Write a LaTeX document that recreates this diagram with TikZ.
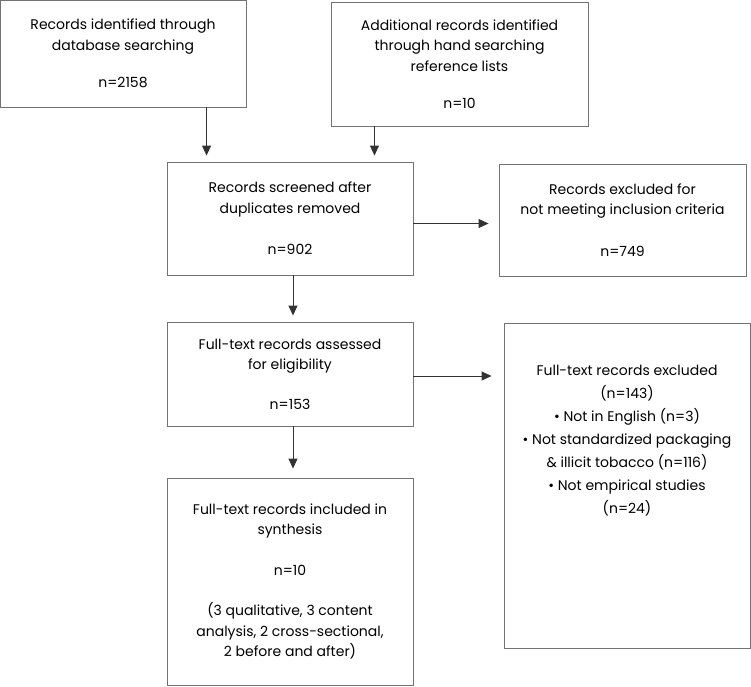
\documentclass[tikz,border=0pt]{standalone}
\usepackage{fontspec}
\setmainfont{Poppins}
\usepackage{tikz}
\usetikzlibrary{arrows.meta}

\tikzset{
    box/.style={rectangle,draw=black!55,line width=0.9pt,align=center,
        font=\fontsize{14}{20.5}\selectfont,inner sep=0pt},
    arr/.style={draw=black!80,line width=0.9pt,-{Triangle[length=10pt,width=9pt]}}
}

\begin{document}
\begin{tikzpicture}[x=1pt,y=-1pt]
    \useasboundingbox (0,0) rectangle (751,686);
    \node[box,minimum width=246pt,minimum height=107pt] (srch) at (123,53.5)
        {Records identified through\\ database searching\\[17pt] n=2158};
    \node[box,minimum width=257pt,minimum height=124pt] (hand) at (459.5,64)
        {Additional records identified\\ through hand searching\\ reference lists\\[17pt] n=10};
    \node[box,minimum width=246pt,minimum height=113pt] (scrn) at (290,218.5)
        {Records screened after\\ duplicates removed\\[21pt] n=902};
    \node[box,minimum width=247pt,minimum height=112pt] (excl) at (622.5,220)
        {Records excluded for\\ not meeting inclusion criteria\\[21pt] n=749};
    \node[box,minimum width=246pt,minimum height=104pt] (elig) at (290,374)
        {Full-text records assessed\\ for eligibility\\[19pt] n=153};
    \node[box,minimum width=246pt,minimum height=325pt] (exfull) at (627,485.5) {};
    \node[align=center,font=\fontsize{14}{23}\selectfont] (exlist) at (627,441)
        {Full-text records excluded\\ (n=143)\\
         \textbullet\ Not in English (n=3)\\
         \textbullet\ Not standardized packaging\\
         \& illicit tobacco (n=116)\\
         \textbullet\ Not empirical studies\\ (n=24)};
    \node[box,minimum width=246pt,minimum height=207pt] (incl) at (290,581.5)
        {Full-text records included in\\ synthesis\\[20pt] n=10\\[20pt]
         (3 qualitative, 3 content\\ analysis, 2 cross-sectional,\\ 2 before and after)};
    \draw[arr,shorten >=6pt] ([xshift=40pt]scrn.north west |- srch.south) -- ([xshift=40pt]scrn.north west);
    \draw[arr,shorten >=6pt] ([xshift=-39pt]scrn.north east |- hand.south) -- ([xshift=-39pt]scrn.north east);
    \draw[arr,shorten >=10pt] ([yshift=-5pt]scrn.east) -- ([yshift=-5pt]scrn.east -| excl.west);
    \draw[arr,shorten >=6pt] ([xshift=3pt]scrn.south) -- ([xshift=3pt]elig.north);
    \draw[arr,shorten >=12pt] ([yshift=-2pt]elig.east) -- ([yshift=-2pt]elig.east -| exfull.west);
    \draw[arr,shorten >=9pt] ([xshift=3pt]elig.south) -- ([xshift=3pt]incl.north);
\end{tikzpicture}
\end{document}
